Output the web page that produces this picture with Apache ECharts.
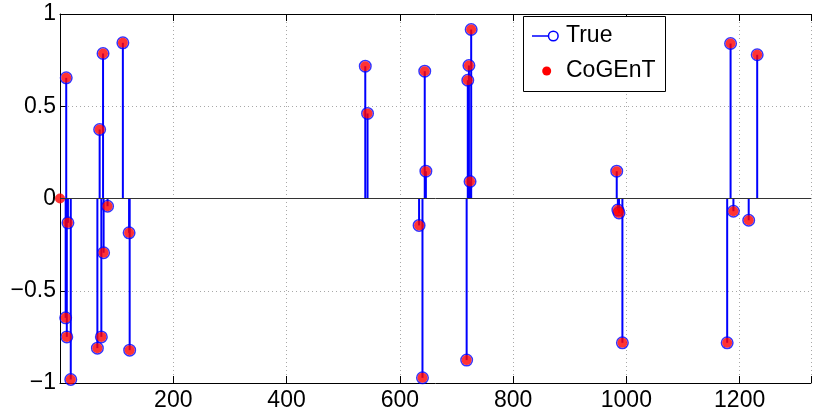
<!DOCTYPE html>
<html>
<head>
<meta charset="utf-8">
<script src="https://cdn.jsdelivr.net/npm/echarts@6/dist/echarts.min.js"></script>
<style>html,body{margin:0;padding:0;background:#fff}#c{width:814px;height:420px}</style>
</head>
<body>
<div id="c"></div>
<script>
// Data
var trueX = [10, 11, 12, 14, 19, 66, 70, 73, 76, 77, 84, 111, 122, 123,
             539, 543, 634, 640, 644, 646, 718, 720, 722, 724, 726,
             983, 985, 987, 993, 1178, 1184, 1189, 1216, 1231];
var trueY = [-0.647, 0.654, -0.75, -0.132, -0.981, -0.811, 0.374, -0.75, 0.786, -0.294, -0.042, 0.844, -0.186, -0.822,
             0.717, 0.461, -0.146, -0.972, 0.69, 0.148, -0.876, 0.641, 0.721, 0.092, 0.916,
             0.148, -0.063, -0.078, -0.782, -0.782, 0.84, -0.069, -0.118, 0.779];
var cogentX = [0].concat(trueX);
var cogentY = [0].concat(trueY);
var xTicks = [200, 400, 600, 800, 1000, 1200];
var yTicks = [-1, -0.5, 0, 0.5, 1];
var legendNames = ['True', 'CoGEnT'];

var FONT = '"Liberation Sans", Arial, Helvetica, sans-serif';
var trueData = trueX.map(function (x, i) { return [x, trueY[i]]; });
var cogentData = cogentX.map(function (x, i) { return [x, cogentY[i]]; });

var chart = echarts.init(document.getElementById('c'), null, {renderer: 'canvas'});
var fmtY = function (v) { return String(v).replace('-', '\u2212'); };
var gridStyle = {show: true, lineStyle: {color: '#a8a8a8', width: 1, type: [1, 3]}};

chart.setOption({
  animation: false,
  backgroundColor: '#fff',
  grid: {left: 60, top: 14, right: 1, bottom: 37, containLabel: false},
  xAxis: [{
    type: 'value', min: 0, max: 1326, interval: 200, position: 'bottom',
    axisLine: {show: true, onZero: false, lineStyle: {color: '#000', width: 1}},
    axisTick: {show: true, inside: true, length: 7, lineStyle: {color: '#000'}},
    axisLabel: {
      color: '#000', fontSize: 23, fontFamily: FONT, margin: 6,
      formatter: function (v) { return xTicks.indexOf(v) >= 0 ? String(v) : ''; }
    },
    splitLine: gridStyle
  }, {
    type: 'value', min: 0, max: 1326, interval: 200, position: 'top',
    axisLine: {show: true, onZero: false, lineStyle: {color: '#000', width: 1}},
    axisTick: {show: true, inside: true, length: 7, lineStyle: {color: '#000'}},
    axisLabel: {show: false}, splitLine: {show: false}
  }],
  yAxis: {
    type: 'value', min: -1, max: 1, interval: 0.5,
    axisLine: {show: true, onZero: false, lineStyle: {color: '#000', width: 1}},
    axisTick: {show: true, inside: true, length: 7, lineStyle: {color: '#000'}},
    axisLabel: {
      color: '#000', fontSize: 23, fontFamily: FONT, margin: 4,
      formatter: function (v) { return yTicks.indexOf(v) >= 0 ? fmtY(v) : ''; }
    },
    splitLine: gridStyle
  },
  series: [{
    name: 'stems', type: 'custom', data: trueData, z: 2,
    renderItem: function (params, api) {
      var x = api.value(0), y = api.value(1);
      var p0 = api.coord([x, 0]), p1 = api.coord([x, y]);
      return {type: 'line', shape: {x1: p0[0], y1: p0[1], x2: p1[0], y2: p1[1]},
              style: {stroke: '#0000ff', lineWidth: 2}};
    },
    markLine: {
      silent: true, symbol: ['none', 'none'], label: {show: false},
      lineStyle: {color: '#333', width: 1, type: 'solid'},
      data: [{yAxis: 0}]
    }
  }, {
    name: 'True', type: 'scatter', data: trueData, z: 3, clip: false,
    symbol: 'circle', symbolSize: 11.5,
    itemStyle: {color: 'rgba(0,0,0,0)', borderColor: '#0000ff', borderWidth: 1.5}
  }, {
    name: 'CoGEnT', type: 'scatter', data: cogentData, z: 4, clip: false,
    symbol: 'circle', symbolSize: 10,
    itemStyle: {color: '#ff0000'}
  }],
  graphic: [
    {type: 'rect', left: 523, top: 16, z: 100,
     shape: {width: 142, height: 75},
     style: {fill: '#fff', stroke: '#000', lineWidth: 1}},
    {type: 'line', z: 101, shape: {x1: 532, y1: 36, x2: 548.5, y2: 36},
     style: {stroke: '#0000ff', lineWidth: 1.5}},
    {type: 'circle', z: 101, shape: {cx: 553.3, cy: 36, r: 4.8},
     style: {fill: 'rgba(0,0,0,0)', stroke: '#0000ff', lineWidth: 1.5}},
    {type: 'text', z: 101, left: 566, top: 24,
     style: {text: legendNames[0], fill: '#000', font: '23px ' + FONT}},
    {type: 'circle', z: 101, shape: {cx: 546.7, cy: 71, r: 4.5},
     style: {fill: '#ff0000'}},
    {type: 'text', z: 101, left: 566, top: 59,
     style: {text: legendNames[1], fill: '#000', font: '23px ' + FONT}}
  ]
});
</script>
</body>
</html>
